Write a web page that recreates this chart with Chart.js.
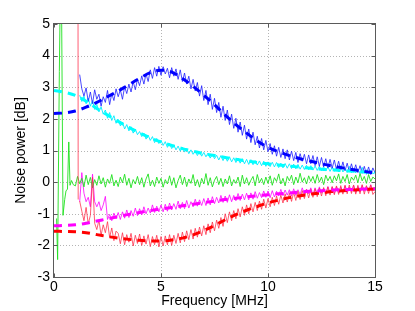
<!DOCTYPE html>
<html><head><meta charset="utf-8">
<script src="https://cdn.jsdelivr.net/npm/chart.js@4.4.1/dist/chart.umd.min.js"></script>
<style>html,body{margin:0;padding:0;background:#fff}canvas{display:block}</style>
</head><body>
<canvas id="c" width="415" height="311"></canvas>
<script>
// ---- axis ticks ----
const xTickValues = [0, 5, 10, 15];
const yTickValues = [-3, -2, -1, 0, 1, 2, 3, 4, 5];

// ---- common frequency grid of the measured traces (MHz) ----
const freqs = [
 1.0,1.1,1.2,1.3,1.4,1.5,1.6,1.7,1.8,1.9,
 2.0,2.1,2.2,2.3,2.4,2.5,2.6,2.7,2.8,2.9,
 3.0,3.1,3.2,3.3,3.4,3.5,3.6,3.7,3.8,3.9,
 4.0,4.1,4.2,4.3,4.4,4.5,4.6,4.7,4.8,4.9,
 5.0,5.1,5.2,5.3,5.4,5.5,5.6,5.7,5.8,5.9,
 6.0,6.1,6.2,6.3,6.4,6.5,6.6,6.7,6.8,6.9,
 7.0,7.1,7.2,7.3,7.4,7.5,7.6,7.7,7.8,7.9,
 8.0,8.1,8.2,8.3,8.4,8.5,8.6,8.7,8.8,8.9,
 9.0,9.1,9.2,9.3,9.4,9.5,9.6,9.7,9.8,9.9,
 10.0,10.1,10.2,10.3,10.4,10.5,10.6,10.7,10.8,10.9,
 11.0,11.1,11.2,11.3,11.4,11.5,11.6,11.7,11.8,11.9,
 12.0,12.1,12.2,12.3,12.4,12.5,12.6,12.7,12.8,12.9,
 13.0,13.1,13.2,13.3,13.4,13.5,13.6,13.7,13.8,13.9,
 14.0,14.1,14.2,14.3,14.4,14.5,14.6,14.7,14.8,14.9,
 15.0];

// ---- low-frequency start of each measured trace ----
const greenHeadF = [0.12,0.17,0.25,0.33,0.36,0.42,0.50,0.56,0.63,0.69,0.75,0.82,0.90];
const greenHeadV = [-1.15,-2.45,3.5,8,8,-1.05,-0.55,-0.28,-0.22,1.27,-0.10,0.05,-0.08];
const redHeadF = [1.12,1.13];
const redHeadV = [8,-0.55];
const magentaHeadF = [1.15];
const magentaHeadV = [-0.40];
const blueHeadF = [1.16];
const blueHeadV = [3.85];
const cyanHeadF = [1.17];
const cyanHeadV = [2.72];

// ---- measured traces on the grid (dB) ----
const blueMeas = [
 null,null,3.40,2.95,2.72,2.98,2.55,2.85,2.48,2.92,
 2.62,2.78,2.40,2.70,2.52,2.90,2.45,2.80,2.58,2.95,
 2.70,2.92,2.62,3.02,2.80,3.10,2.85,3.18,2.92,3.25,
 3.05,3.36,3.10,3.42,3.18,3.55,3.28,3.62,3.35,3.66,
 3.38,3.65,3.42,3.60,3.30,3.62,3.35,3.58,3.25,3.55,
 3.18,3.45,3.10,3.35,2.95,3.25,2.88,3.15,2.72,3.05,
 2.58,2.90,2.45,2.78,2.30,2.65,2.20,2.52,2.05,2.40,
 1.95,2.28,1.82,2.15,1.70,2.02,1.58,1.90,1.48,1.80,
 1.36,1.68,1.25,1.58,1.18,1.45,1.08,1.38,1.02,1.32,
 0.96,1.22,0.88,1.15,0.82,1.10,0.78,1.05,0.74,1.02,
 0.70,0.98,0.68,0.94,0.62,0.90,0.66,0.88,0.58,0.86,
 0.58,0.84,0.52,0.80,0.50,0.78,0.48,0.74,0.45,0.72,
 0.44,0.70,0.40,0.66,0.38,0.64,0.36,0.60,0.33,0.58,
 0.33,0.55,0.30,0.52,0.28,0.50,0.25,0.48,0.24,0.45,
 0.30];
const cyanMeas = [
 null,null,2.75,2.55,2.72,2.48,2.66,2.40,2.58,2.30,
 2.46,2.22,2.38,2.15,2.28,2.02,2.20,1.95,2.10,1.86,
 1.98,1.78,1.90,1.68,1.82,1.62,1.75,1.55,1.68,1.50,
 1.60,1.44,1.55,1.36,1.48,1.32,1.44,1.25,1.38,1.22,
 1.32,1.16,1.28,1.10,1.22,1.06,1.18,1.02,1.14,0.98,
 1.10,0.95,1.06,0.90,1.02,0.88,0.98,0.84,0.96,0.82,
 0.94,0.80,0.92,0.76,0.88,0.74,0.85,0.70,0.84,0.68,
 0.82,0.66,0.80,0.64,0.77,0.62,0.76,0.60,0.74,0.58,
 0.72,0.56,0.71,0.55,0.68,0.54,0.67,0.52,0.66,0.50,
 0.64,0.49,0.63,0.48,0.62,0.46,0.60,0.45,0.59,0.44,
 0.58,0.43,0.57,0.42,0.56,0.41,0.54,0.40,0.53,0.39,
 0.52,0.38,0.51,0.37,0.50,0.36,0.49,0.35,0.48,0.34,
 0.47,0.34,0.46,0.33,0.52,0.32,0.44,0.31,0.50,0.30,
 0.42,0.29,0.41,0.28,0.47,0.28,0.39,0.27,0.38,0.26,
 0.32];
const greenMeas = [
 -0.12,0.18,-0.05,0.12,-0.15,0.22,-0.08,0.15,-0.18,0.08,
 -0.10,0.20,-0.06,0.14,-0.16,0.10,-0.04,0.24,-0.12,0.06,
 -0.14,0.16,-0.02,0.25,-0.10,0.12,-0.18,0.08,-0.06,0.18,
 -0.08,0.14,-0.16,0.10,0.26,-0.12,0.06,-0.14,0.16,-0.04,
 0.12,-0.16,0.08,-0.06,0.20,-0.10,0.14,-0.18,0.05,0.22,
 -0.08,0.16,-0.14,0.10,-0.04,0.24,-0.12,0.08,-0.16,0.12,
 -0.06,0.27,-0.10,0.14,-0.15,0.06,0.18,-0.08,0.12,-0.14,
 0.10,-0.06,0.20,-0.12,0.08,-0.04,0.16,-0.14,0.22,-0.06,
 0.14,-0.10,0.06,0.18,-0.12,0.24,-0.02,0.12,-0.08,0.16,
 -0.04,0.20,-0.10,0.14,0.02,0.26,-0.06,0.12,-0.12,0.18,
 0.04,0.22,-0.08,0.16,-0.02,0.28,0.00,0.14,-0.06,0.20,
 0.02,0.18,-0.04,0.24,0.00,0.16,-0.08,0.22,0.04,0.18,
 -0.02,0.20,0.04,0.26,-0.04,0.18,0.02,0.24,-0.06,0.16,
 0.06,0.22,-0.02,0.28,0.04,0.18,-0.04,0.24,0.02,0.16,
 0.10];
const magentaMeas = [
 null,null,-0.62,0.30,-0.35,-0.62,-0.48,-0.78,0.25,-0.62,
 -0.78,-0.62,-0.90,-0.72,-0.45,-1.18,-1.02,-1.22,-0.98,-1.16,
 -0.96,-1.18,-0.94,-1.14,-0.88,-1.12,-0.90,-1.08,-0.82,-1.06,
 -0.84,-1.04,-0.78,-1.00,-0.82,-0.98,-0.72,-0.96,-0.76,-0.94,
 -0.72,-0.94,-0.70,-0.92,-0.66,-0.88,-0.68,-0.86,-0.60,-0.84,
 -0.64,-0.84,-0.58,-0.82,-0.62,-0.78,-0.54,-0.76,-0.56,-0.74,
 -0.52,-0.74,-0.50,-0.72,-0.46,-0.68,-0.48,-0.66,-0.42,-0.64,
 -0.44,-0.64,-0.40,-0.62,-0.42,-0.59,-0.36,-0.58,-0.38,-0.56,
 -0.35,-0.56,-0.34,-0.54,-0.30,-0.51,-0.33,-0.49,-0.28,-0.48,
 -0.28,-0.49,-0.27,-0.47,-0.29,-0.44,-0.23,-0.43,-0.25,-0.41,
 -0.24,-0.44,-0.21,-0.42,-0.24,-0.39,-0.18,-0.38,-0.22,-0.37,
 -0.18,-0.40,-0.18,-0.37,-0.15,-0.35,-0.19,-0.34,-0.14,-0.33,
 -0.15,-0.36,-0.13,-0.34,-0.16,-0.32,-0.11,-0.31,-0.15,-0.30,
 -0.10,-0.33,-0.14,-0.31,-0.10,-0.29,-0.13,-0.28,-0.08,-0.27,
 -0.18];
const redMeas = [
 null,null,-0.60,-0.92,-1.22,-0.80,-1.32,-1.05,0.15,-1.30,
 -1.50,-1.20,-1.68,-1.35,-1.60,-1.25,-1.75,-1.45,-1.85,-1.55,
 -1.62,-1.95,-1.60,-1.98,-1.66,-1.90,-1.62,-2.02,-1.68,-1.94,
 -1.64,-2.00,-1.70,-1.96,-1.66,-2.04,-1.72,-1.98,-1.68,-2.05,
 -1.72,-2.02,-1.70,-1.98,-1.66,-2.00,-1.68,-1.94,-1.62,-1.92,
 -1.58,-1.88,-1.54,-1.82,-1.50,-1.80,-1.46,-1.74,-1.42,-1.70,
 -1.38,-1.66,-1.32,-1.60,-1.26,-1.54,-1.20,-1.46,-1.12,-1.40,
 -1.00,-1.28,-0.94,-1.22,-0.90,-1.16,-0.84,-1.10,-0.78,-1.05,
 -0.72,-1.00,-0.68,-0.94,-0.64,-0.90,-0.60,-0.86,-0.54,-0.82,
 -0.52,-0.78,-0.48,-0.74,-0.44,-0.70,-0.41,-0.66,-0.37,-0.63,
 -0.35,-0.61,-0.32,-0.58,-0.29,-0.55,-0.27,-0.52,-0.24,-0.50,
 -0.23,-0.48,-0.21,-0.46,-0.19,-0.44,-0.17,-0.43,-0.15,-0.41,
 -0.14,-0.40,-0.12,-0.39,-0.11,-0.38,-0.10,-0.37,-0.09,-0.36,
 -0.09,-0.38,-0.10,-0.37,-0.08,-0.38,-0.11,-0.36,-0.09,-0.39,
 -0.30];

// ---- model (dashed) curves ----
const modelFreqs = [0,0.5,1,1.5,2,2.5,3,3.5,4,4.5,5,5.5,6,6.5,7,7.5,8,8.5,9,9.5,10,10.5,11,11.5,12,12.5,13,13.5,14,14.5,15];
const blueModel    = [2.17,2.19,2.25,2.37,2.52,2.70,2.88,3.08,3.28,3.46,3.54,3.48,3.28,3.03,2.75,2.45,2.12,1.82,1.55,1.30,1.10,0.96,0.84,0.74,0.66,0.58,0.51,0.45,0.39,0.34,0.29];
const cyanModel    = [2.90,2.84,2.74,2.56,2.33,2.12,1.92,1.73,1.56,1.40,1.27,1.16,1.06,0.98,0.90,0.84,0.78,0.72,0.67,0.62,0.58,0.54,0.51,0.47,0.44,0.41,0.39,0.36,0.34,0.32,0.30];
const magentaModel = [-1.38,-1.37,-1.35,-1.30,-1.23,-1.16,-1.09,-1.02,-0.96,-0.90,-0.85,-0.80,-0.75,-0.70,-0.65,-0.60,-0.55,-0.51,-0.47,-0.43,-0.40,-0.37,-0.34,-0.31,-0.29,-0.27,-0.25,-0.24,-0.23,-0.22,-0.21];
const redModel     = [-1.55,-1.56,-1.57,-1.60,-1.66,-1.72,-1.77,-1.81,-1.84,-1.86,-1.86,-1.83,-1.77,-1.67,-1.53,-1.37,-1.19,-1.03,-0.89,-0.77,-0.66,-0.57,-0.49,-0.43,-0.38,-0.34,-0.30,-0.27,-0.25,-0.23,-0.22];

const FONT = 'Liberation Sans, Arial, Helvetica, sans-serif';
const pts = (fs, vs) => fs.map((f, i) => ({x: f, y: vs[i]}));

function trace(hf, hv, vals, color, order) {
  return {data: pts(hf, hv).concat(pts(freqs, vals)), borderColor: color, borderWidth: 1,
          pointRadius: 0, tension: 0, fill: false, spanGaps: false, order: order};
}
function model(vals, color) {
  return {data: pts(modelFreqs, vals), borderColor: color, borderWidth: 3, borderDash: [8, 6],
          pointRadius: 0, tension: 0.35, fill: false, order: 0};
}

const framePlugin = {
  id: 'frame',
  beforeDatasetsDraw(chart) {
    const {ctx, chartArea: a, scales: {x, y}} = chart;
    ctx.save();
    ctx.strokeStyle = '#b4b4b4'; ctx.lineWidth = 1; ctx.setLineDash([1, 2]);
    xTickValues.forEach(v => {
      const px = Math.round(x.getPixelForValue(v)) + 0.5;
      if (v > 0 && v < 15) { ctx.beginPath(); ctx.moveTo(px, a.top); ctx.lineTo(px, a.bottom); ctx.stroke(); }
    });
    yTickValues.forEach(v => {
      const py = Math.round(y.getPixelForValue(v)) + 0.5;
      if (v > -3 && v < 5) { ctx.beginPath(); ctx.moveTo(a.left, py); ctx.lineTo(a.right, py); ctx.stroke(); }
    });
    ctx.restore();
  },
  afterDatasetsDraw(chart) {
    const {ctx, chartArea: a, scales: {x, y}} = chart;
    ctx.save();
    ctx.strokeStyle = '#5a5a5a'; ctx.lineWidth = 1; ctx.setLineDash([]);
    const L = Math.round(a.left) - 0.5, R = Math.round(a.right) + 0.5;
    const T = Math.round(a.top) - 0.5, B = Math.round(a.bottom) + 0.5;
    ctx.strokeRect(L, T, R - L, B - T);
    ctx.beginPath();
    xTickValues.forEach(v => {
      const px = Math.round(x.getPixelForValue(v)) + 0.5;
      ctx.moveTo(px, B); ctx.lineTo(px, B - 4);
      ctx.moveTo(px, T); ctx.lineTo(px, T + 4);
    });
    yTickValues.forEach(v => {
      const py = Math.round(y.getPixelForValue(v)) + 0.5;
      ctx.moveTo(L, py); ctx.lineTo(L + 4, py);
      ctx.moveTo(R, py); ctx.lineTo(R - 4, py);
    });
    ctx.stroke();
    ctx.restore();
  }
};

new Chart(document.getElementById('c'), {
  type: 'line',
  data: {
    datasets: [
      model(blueModel, '#0000ff'),
      model(cyanModel, '#00ffff'),
      model(magentaModel, '#ff00ff'),
      model(redModel, '#ff0000'),
      trace(blueHeadF, blueHeadV, blueMeas, 'rgba(30,30,255,0.8)', 2),
      trace(cyanHeadF, cyanHeadV, cyanMeas, 'rgba(0,235,255,0.9)', 2),
      trace(greenHeadF, greenHeadV, greenMeas, 'rgba(30,225,30,0.9)', 2),
      trace(magentaHeadF, magentaHeadV, magentaMeas, 'rgba(255,0,255,0.8)', 2),
      trace(redHeadF, redHeadV, redMeas, 'rgba(255,40,70,0.75)', 1)
    ]
  },
  options: {
    responsive: false, animation: false, devicePixelRatio: 1,
    layout: {padding: {top: 24, right: 40, left: 0, bottom: 0}},
    plugins: {legend: {display: false}, tooltip: {enabled: false}},
    scales: {
      x: {
        type: 'linear', min: 0, max: 15,
        afterFit(s) { s.height = 34; },
        afterBuildTicks(s) { s.ticks = xTickValues.map(v => ({value: v})); },
        grid: {display: false, drawTicks: false},
        border: {display: false},
        ticks: {color: '#000', padding: 2, font: {family: FONT, size: 14}, maxRotation: 0},
        title: {display: true, text: 'Frequency [MHz]', color: '#000', font: {family: FONT, size: 14}, padding: {top: 0, bottom: 1}}
      },
      y: {
        type: 'linear', min: -3, max: 5,
        afterFit(s) { s.width = 54; },
        afterBuildTicks(s) { s.ticks = yTickValues.map(v => ({value: v})); },
        grid: {display: false, drawTicks: false},
        border: {display: false},
        ticks: {color: '#000', padding: 4, font: {family: FONT, size: 14}},
        title: {display: true, text: 'Noise power [dB]', color: '#000', font: {family: FONT, size: 14}, padding: {top: 13, bottom: 0}}
      }
    }
  },
  plugins: [framePlugin]
});
</script>
</body></html>
